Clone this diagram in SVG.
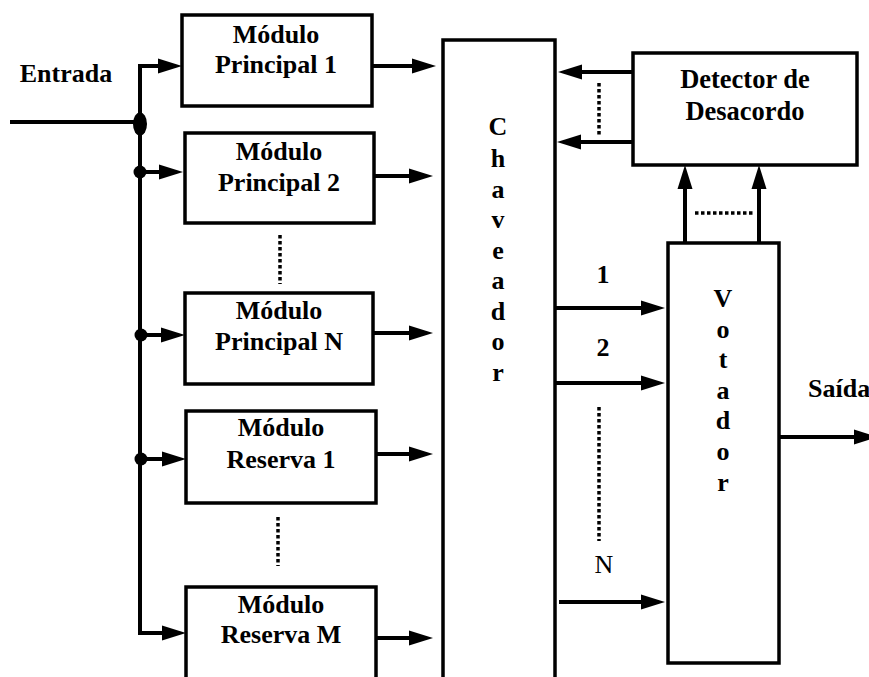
<svg xmlns="http://www.w3.org/2000/svg" width="869" height="677" viewBox="0 0 869 677">
  <style>
    .box { fill: #ffffff; stroke: #000000; stroke-width: 3.5; }
    text { font-family: "Liberation Serif", "Times New Roman", Tinos, "DejaVu Serif", serif; font-size: 26px; fill: #000000; text-anchor: middle; }
    .t { font-weight: bold; }
    .tr { font-weight: normal; }
    .ln { fill: none; stroke: #000000; stroke-width: 4; }
    .arr { fill: none; stroke: #000000; stroke-width: 4; marker-end: url(#ah); }
    .dot { fill: none; stroke: #000000; stroke-width: 3.5; stroke-dasharray: 3.5 2.5; }
  </style>
  <defs>
    <marker id="ah" markerUnits="userSpaceOnUse" markerWidth="24" markerHeight="16" refX="12" refY="7.5" orient="auto-start-reverse" viewBox="0 0 24 15">
      <path d="M0,0 L24,7.5 L0,15 Z" fill="#000000"/>
    </marker>
  </defs>
  <rect width="869" height="677" fill="#ffffff"/>

  <g id="connectors">
    <path class="ln" d="M10,122 H140"/>
    <path class="ln" d="M174,633 H140 V66 H170" marker-start="url(#ah)" marker-end="url(#ah)"/>
    <path class="arr" d="M140,172 H171"/>
    <path class="arr" d="M140,335 H173"/>
    <path class="arr" d="M140,459 H174"/>
    <ellipse cx="140" cy="124" rx="7" ry="11.5" fill="#000000"/>
    <circle cx="140" cy="172" r="6.5" fill="#000000"/>
    <circle cx="141" cy="335" r="6.5" fill="#000000"/>
    <circle cx="141" cy="459" r="6.5" fill="#000000"/>

    <path class="arr" d="M372,66 H424"/>
    <path class="arr" d="M374,176 H421"/>
    <path class="arr" d="M373,333 H421"/>
    <path class="arr" d="M376,454 H421"/>
    <path class="arr" d="M376,638 H421"/>

    <path class="arr" d="M633,72 H570"/>
    <path class="arr" d="M633,142 H569"/>

    <path class="arr" d="M685,243 V177"/>
    <path class="arr" d="M759,243 V177"/>

    <path class="arr" d="M555,308 H653"/>
    <path class="arr" d="M555,383 H653"/>
    <path class="arr" d="M559,602 H653"/>

    <path class="arr" d="M779,437 H866"/>

    <path class="dot" d="M280,235 V284"/>
    <path class="dot" d="M278,517 V566"/>
    <path class="dot" d="M599,83 V136"/>
    <path class="dot" d="M695,213 H754"/>
    <path class="dot" d="M599,407 V541"/>
  </g>

  <g id="mp1">
    <rect class="box" x="182" y="15" width="190" height="91"/>
    <text class="t" x="276" y="43">Módulo</text>
    <text class="t" x="276" y="73">Principal 1</text>
  </g>
  <g id="mp2">
    <rect class="box" x="185" y="133" width="189" height="90"/>
    <text class="t" x="279" y="160">Módulo</text>
    <text class="t" x="279" y="191">Principal 2</text>
  </g>
  <g id="mpn">
    <rect class="box" x="185" y="293" width="188" height="91"/>
    <text class="t" x="279" y="319">Módulo</text>
    <text class="t" x="279" y="350">Principal N</text>
  </g>
  <g id="mr1">
    <rect class="box" x="186" y="411" width="190" height="92"/>
    <text class="t" x="281" y="436">Módulo</text>
    <text class="t" x="281" y="468">Reserva 1</text>
  </g>
  <g id="mrm">
    <rect class="box" x="186" y="587" width="190" height="110"/>
    <text class="t" x="281" y="613">Módulo</text>
    <text class="t" x="281" y="643">Reserva M</text>
  </g>

  <g id="chaveador">
    <rect class="box" x="443" y="40" width="112" height="660"/>
    <text class="t" x="498" y="135">C</text>
    <text class="t" x="498" y="167">h</text>
    <text class="t" x="498" y="198">a</text>
    <text class="t" x="498" y="228">v</text>
    <text class="t" x="498" y="259">e</text>
    <text class="t" x="498" y="289">a</text>
    <text class="t" x="498" y="320">d</text>
    <text class="t" x="498" y="350">o</text>
    <text class="t" x="498" y="381">r</text>
  </g>

  <g id="detector">
    <rect class="box" x="633" y="53" width="224" height="112"/>
    <text class="t" x="745" y="88" style="font-size:26.5px">Detector de</text>
    <text class="t" x="745" y="120" style="font-size:26.5px">Desacordo</text>
  </g>

  <g id="votador">
    <rect class="box" x="668" y="243" width="111" height="420"/>
    <text class="t" x="723" y="307">V</text>
    <text class="t" x="723" y="338">o</text>
    <text class="t" x="723" y="368">t</text>
    <text class="t" x="723" y="399">a</text>
    <text class="t" x="723" y="429">d</text>
    <text class="t" x="723" y="460">o</text>
    <text class="t" x="723" y="491">r</text>
  </g>

  <g id="labels">
    <text class="t" x="66" y="82">Entrada</text>
    <text class="t" x="603" y="283">1</text>
    <text class="t" x="603" y="356">2</text>
    <text class="tr" x="604" y="573">N</text>
    <text class="t" x="808" y="397" style="text-anchor:start">Saída</text>
  </g>
</svg>
